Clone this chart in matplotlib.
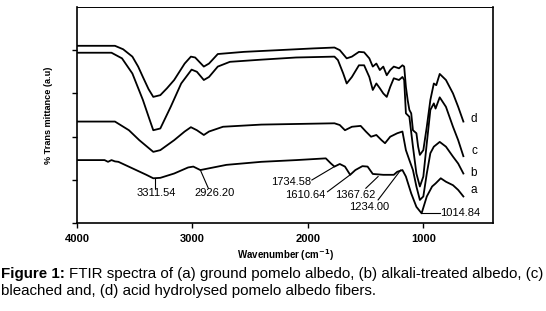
import numpy as np
import matplotlib
matplotlib.use("Agg")
import matplotlib.pyplot as plt

plt.rcParams['font.family'] = ['Liberation Sans', 'DejaVu Sans']

# wavenumbers (cm-1) and transmittance (a.u.)
wn_d = [4000, 3671, 3600, 3520, 3470, 3429, 3380, 3339, 3278, 3220, 3158, 3067, 3013, 2976, 2901, 2856, 2780,
        2554, 2252, 1950, 1769, 1723, 1663, 1618, 1557, 1512, 1467, 1437, 1406, 1376, 1346, 1316, 1286,
        1255, 1210, 1180, 1165, 1150, 1135, 1120, 1104, 1089, 1059, 1044, 1029, 999, 969, 938, 908, 887,
        857, 803, 742, 697, 652]
tr_d = [4.10, 4.10, 4.02, 3.85, 3.62, 3.38, 3.10, 2.92, 2.96, 3.12, 3.31, 3.69, 3.85, 3.83, 3.62, 3.69, 3.91,
        3.96, 4.00, 4.04, 4.06, 4.00, 3.81, 3.85, 3.96, 3.95, 3.81, 3.62, 3.69, 3.54, 3.62, 3.42, 3.54,
        3.62, 3.58, 3.65, 3.62, 3.15, 2.85, 2.62, 2.54, 2.15, 2.08, 1.77, 1.58, 1.69, 2.23, 2.85, 3.23, 3.19,
        3.45, 3.31, 3.00, 2.69, 2.35]

wn_c = [4000, 3701, 3610, 3520, 3429, 3369, 3339, 3278, 3188, 3097, 3007, 2961, 2901, 2856, 2780, 2675,
        2403, 2101, 1769, 1739, 1693, 1663, 1618, 1557, 1512, 1467, 1437, 1406, 1376, 1346, 1316, 1286,
        1255, 1210, 1180, 1165, 1150, 1120, 1089, 1059, 1029, 999, 969, 938, 908, 893, 857, 803, 742, 697, 652]
tr_c = [3.94, 3.94, 3.81, 3.46, 2.85, 2.38, 2.15, 2.19, 2.69, 3.23, 3.55, 3.50, 3.31, 3.38, 3.62, 3.73,
        3.78, 3.83, 3.85, 3.77, 3.46, 3.23, 3.38, 3.65, 3.65, 3.38, 3.08, 3.23, 3.12, 3.00, 2.92, 3.15,
        3.35, 3.31, 3.38, 3.31, 2.54, 2.46, 1.77, 1.15, 0.85, 1.08, 1.85, 2.62, 2.77, 2.65, 2.91, 2.69, 2.23, 1.92, 1.55]

wn_b = [4000, 3671, 3550, 3460, 3339, 3278, 3158, 3067, 3013, 2961, 2901, 2856, 2735, 2403, 1769, 1723,
        1678, 1618, 1542, 1497, 1452, 1406, 1361, 1331, 1286, 1225, 1180, 1150, 1120, 1089, 1059, 1029,
        999, 969, 938, 908, 857, 803, 742, 697, 652]
tr_b = [2.35, 2.35, 2.15, 1.92, 1.65, 1.69, 1.92, 2.12, 2.22, 2.15, 2.04, 2.12, 2.23, 2.28, 2.31, 2.27,
        2.15, 2.23, 2.25, 2.12, 2.00, 2.04, 1.92, 1.85, 2.00, 2.08, 2.12, 1.69, 1.46, 1.23, 0.85, 0.54,
        0.62, 1.15, 1.62, 1.77, 1.88, 1.77, 1.54, 1.38, 1.15]

wn_a = [4000, 3761, 3731, 3701, 3671, 3641, 3520, 3399, 3339, 3278, 3158, 3037, 2992, 2931, 2856, 2705,
        2403, 2101, 1844, 1799, 1769, 1723, 1678, 1633, 1588, 1527, 1482, 1437, 1346, 1255, 1225, 1180,
        1150, 1104, 1059, 1014, 969, 923, 893, 848, 803, 742, 697, 652]
tr_a = [1.46, 1.46, 1.42, 1.46, 1.43, 1.42, 1.27, 1.12, 1.04, 1.05, 1.15, 1.29, 1.31, 1.23, 1.27, 1.35,
        1.42, 1.46, 1.50, 1.38, 1.31, 1.37, 1.31, 1.12, 1.23, 1.32, 1.31, 1.14, 1.12, 1.12, 1.19, 1.23,
        1.08, 0.69, 0.38, 0.23, 0.62, 0.85, 0.92, 1.04, 0.96, 0.88, 0.77, 0.62]

curve_names = ["d", "c", "b", "a"]
name_y = [2.40, 1.67, 1.17, 0.77]

# peak labels: text, text position, line start, line end
peak_labels = ["3311.54", "2926.20", "1734.58", "1610.64", "1367.62", "1234.00", "1014.84"]
peak_text_xy = [(3309, 0.69), (2810, 0.69), (2146, 0.96), (2025, 0.65), (1588, 0.65), (1467, 0.38), (850, 0.23)]
peak_line_from = [(3320, 0.82), (2862, 0.81), (1965, 1.00), (1829, 0.73), (1497, 0.81), (1391, 0.54), (857, 0.23)]
peak_line_to = [(3320, 1.02), (2931, 1.23), (1769, 1.31), (1633, 1.12), (1391, 1.08), (1195, 1.23), (1014, 0.23)]

fig = plt.figure(figsize=(5.46, 3.11), dpi=100)
ax = fig.add_axes([0.141, 0.282, 0.762, 0.696])

for wn, tr in [(wn_d, tr_d), (wn_c, tr_c), (wn_b, tr_b), (wn_a, tr_a)]:
    ax.plot(wn, tr, color="black", lw=1.3, solid_joinstyle="round")

for name, y in zip(curve_names, name_y):
    ax.text(560, y, name, fontsize=8.5, ha="center", va="center")

for lab, txy, p0, p1 in zip(peak_labels, peak_text_xy, peak_line_from, peak_line_to):
    ax.plot([p0[0], p1[0]], [p0[1], p1[1]], color="black", lw=0.8)
    ha = "left" if lab == "1014.84" else "center"
    ax.text(txy[0], txy[1], lab, fontsize=8, ha=ha, va="center")

ax.set_xlim(4000, 395)
ax.set_ylim(0, 5)
ax.set_xticks([4000, 3000, 2000, 1000])
ax.set_xticklabels(["4000", "3000", "2000", "1000"], fontsize=8, fontweight="bold")
ax.set_yticks([0, 1, 2, 3, 4])
ax.set_yticklabels([])
ax.tick_params(direction="out", length=3.5, width=1, pad=4)
for s in ["left", "bottom", "right"]:
    ax.spines[s].set_linewidth(1.2)
ax.spines["top"].set_linewidth(0.7)

fig.text(0.522, 1 - 255 / 311, "Wavenumber (cm$^{\\mathbf{-1}}$)", fontsize=7, fontweight="bold",
         ha="center", va="center")
fig.text(48 / 546, 1 - 115 / 311, "% Trans mittance (a.u)", fontsize=6.6, fontweight="bold", rotation=90,
         ha="center", va="center")

cap_size = 10.9
t1 = fig.text(0.002, 1 - 274 / 311, "Figure 1:", fontsize=cap_size, fontweight="bold", va="center")
fig.canvas.draw()
bb = t1.get_window_extent().transformed(fig.transFigure.inverted())
fig.text(bb.x1 + 0.007, 1 - 274 / 311,
         "FTIR spectra of (a) ground pomelo albedo, (b) alkali-treated albedo, (c)",
         fontsize=cap_size, va="center")
fig.text(0.002, 1 - 291 / 311, "bleached and, (d) acid hydrolysed pomelo albedo fibers.", fontsize=cap_size,
         va="center")

fig.savefig("out.png", dpi=100)
